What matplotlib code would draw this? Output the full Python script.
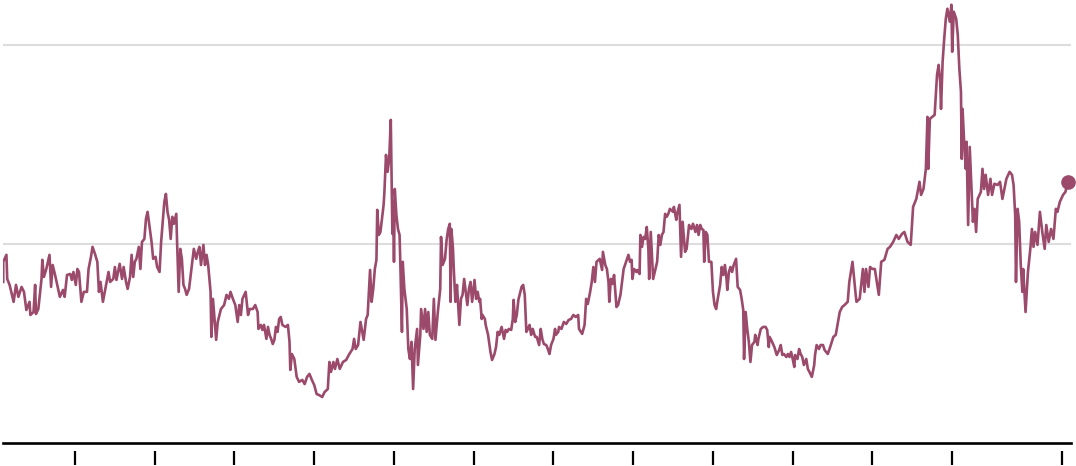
import matplotlib
matplotlib.use("Agg")
import matplotlib.pyplot as plt

# weekly index (decimal years, index value)
years = [
    2010.10, 2010.10, 2010.14, 2010.15, 2010.18, 2010.23, 2010.26, 2010.29, 2010.33, 2010.36,
    2010.39, 2010.43, 2010.44, 2010.48, 2010.50, 2010.51, 2010.54, 2010.58, 2010.59, 2010.61,
    2010.64, 2010.68, 2010.70, 2010.72, 2010.75, 2010.81, 2010.85, 2010.87, 2010.90, 2010.94,
    2010.96, 2010.98, 2011.01, 2011.03, 2011.05, 2011.08, 2011.11, 2011.15, 2011.17, 2011.20,
    2011.22, 2011.25, 2011.28, 2011.30, 2011.32, 2011.35, 2011.39, 2011.42, 2011.44, 2011.48,
    2011.50, 2011.52, 2011.56,
    2011.59, 2011.61, 2011.64, 2011.66, 2011.69, 2011.71, 2011.73, 2011.75, 2011.77, 2011.80,
    2011.82, 2011.84, 2011.87, 2011.89, 2011.91, 2011.94, 2011.96, 2011.98, 2012.01, 2012.03,
    2012.06, 2012.08, 2012.10, 2012.12, 2012.14, 2012.16, 2012.18, 2012.20, 2012.22, 2012.24,
    2012.27, 2012.28, 2012.30, 2012.32, 2012.34, 2012.36, 2012.38, 2012.40, 2012.43, 2012.46,
    2012.49, 2012.52, 2012.54, 2012.56, 2012.58, 2012.61, 2012.63, 2012.65, 2012.67, 2012.70,
    2012.71, 2012.73, 2012.77, 2012.79, 2012.83, 2012.87, 2012.90, 2012.93, 2012.95, 2012.98,
    2013.01, 2013.04,
    2013.06, 2013.08, 2013.10, 2013.14, 2013.17, 2013.19, 2013.23, 2013.26, 2013.29, 2013.30,
    2013.33, 2013.35, 2013.37, 2013.40, 2013.42, 2013.44, 2013.46, 2013.48, 2013.50, 2013.52,
    2013.54, 2013.56, 2013.58, 2013.60, 2013.64, 2013.67, 2013.69, 2013.70, 2013.72, 2013.75,
    2013.78, 2013.81, 2013.85, 2013.88, 2013.91, 2013.94, 2013.97, 2014.00, 2014.03, 2014.06,
    2014.10, 2014.13, 2014.17, 2014.19, 2014.21, 2014.24, 2014.26, 2014.29, 2014.32, 2014.36,
    2014.40, 2014.44, 2014.48, 2014.50, 2014.52,
    2014.55, 2014.58, 2014.62, 2014.65, 2014.67, 2014.70, 2014.72, 2014.74, 2014.76, 2014.78,
    2014.79, 2014.81, 2014.83, 2014.87, 2014.88, 2014.90, 2014.92, 2014.94, 2014.96, 2014.98,
    2014.99, 2015.00, 2015.01, 2015.03, 2015.05, 2015.07, 2015.08, 2015.10, 2015.11, 2015.13,
    2015.16, 2015.18, 2015.20, 2015.22, 2015.24, 2015.26, 2015.29, 2015.30, 2015.33, 2015.34,
    2015.37, 2015.39, 2015.41, 2015.43, 2015.45, 2015.48, 2015.50, 2015.52, 2015.55, 2015.58,
    2015.59, 2015.61, 2015.64, 2015.66, 2015.68, 2015.70, 2015.71, 2015.72, 2015.74, 2015.75,
    2015.77, 2015.79, 2015.82, 2015.84, 2015.86, 2015.88, 2015.90, 2015.92, 2015.94, 2015.96,
    2015.98,
    2016.01, 2016.03, 2016.05, 2016.07, 2016.08, 2016.10, 2016.11, 2016.14, 2016.15, 2016.18,
    2016.21, 2016.23, 2016.26, 2016.28, 2016.30, 2016.32, 2016.35, 2016.38, 2016.40, 2016.42,
    2016.44, 2016.47, 2016.49, 2016.50, 2016.52, 2016.54, 2016.56, 2016.60, 2016.62, 2016.64,
    2016.66, 2016.68, 2016.70, 2016.72, 2016.74, 2016.77, 2016.79, 2016.82, 2016.84, 2016.86,
    2016.88, 2016.91, 2016.93, 2016.95, 2016.97, 2017.00, 2017.02, 2017.03, 2017.06, 2017.07,
    2017.10, 2017.13, 2017.16, 2017.19, 2017.22, 2017.25, 2017.28, 2017.31, 2017.32, 2017.36,
    2017.39, 2017.41, 2017.43, 2017.46,
    2017.48, 2017.50, 2017.52, 2017.54, 2017.58, 2017.61, 2017.62, 2017.65, 2017.67, 2017.69,
    2017.70, 2017.72, 2017.74, 2017.76, 2017.79, 2017.81, 2017.84, 2017.86, 2017.88, 2017.91,
    2017.94, 2017.96, 2017.98, 2017.99, 2018.01, 2018.04, 2018.05, 2018.08, 2018.09, 2018.11,
    2018.13, 2018.15, 2018.17, 2018.19, 2018.20, 2018.22, 2018.25, 2018.27, 2018.30, 2018.32,
    2018.34, 2018.36, 2018.38, 2018.40, 2018.42, 2018.44, 2018.46, 2018.50, 2018.51, 2018.54,
    2018.55, 2018.58, 2018.60, 2018.62, 2018.65, 2018.67, 2018.70, 2018.73, 2018.75, 2018.78,
    2018.80, 2018.82, 2018.84, 2018.86, 2018.88, 2018.89, 2018.91, 2018.93, 2018.95,
    2018.98, 2019.00, 2019.02, 2019.04, 2019.06, 2019.09, 2019.11, 2019.13, 2019.15, 2019.17,
    2019.18, 2019.20, 2019.22, 2019.24, 2019.26, 2019.29, 2019.31, 2019.34, 2019.36, 2019.38,
    2019.39, 2019.41, 2019.43, 2019.45, 2019.47, 2019.49, 2019.52, 2019.53, 2019.56, 2019.57,
    2019.60, 2019.63, 2019.66, 2019.68, 2019.70, 2019.71, 2019.73, 2019.77, 2019.80, 2019.83,
    2019.85, 2019.87, 2019.89, 2019.92, 2019.94, 2019.96, 2019.98, 2020.00, 2020.02, 2020.03,
    2020.06, 2020.08, 2020.10, 2020.12, 2020.14, 2020.17, 2020.19, 2020.21, 2020.24, 2020.27,
    2020.28, 2020.30, 2020.33, 2020.35, 2020.38, 2020.40, 2020.44,
    2020.47, 2020.51, 2020.54, 2020.59, 2020.62, 2020.65, 2020.69, 2020.71, 2020.73, 2020.75,
    2020.79, 2020.80, 2020.84, 2020.88, 2020.90, 2020.92, 2020.95, 2020.97, 2021.00, 2021.03,
    2021.08, 2021.11, 2021.15, 2021.19, 2021.22, 2021.26, 2021.30, 2021.33, 2021.37, 2021.40,
    2021.44, 2021.48, 2021.51, 2021.55, 2021.59, 2021.61, 2021.64, 2021.67, 2021.69, 2021.70,
    2021.72, 2021.78, 2021.81, 2021.83, 2021.85, 2021.86, 2021.88, 2021.90, 2021.92, 2021.94,
    2021.97, 2021.99, 2022.00, 2022.02, 2022.05, 2022.07, 2022.09, 2022.11, 2022.12, 2022.13,
    2022.15, 2022.17, 2022.18, 2022.20, 2022.22, 2022.24, 2022.26, 2022.28, 2022.30, 2022.32,
    2022.36, 2022.38, 2022.40, 2022.42, 2022.45, 2022.48, 2022.50, 2022.53, 2022.57, 2022.60,
    2022.63, 2022.68, 2022.72, 2022.75, 2022.77, 2022.79, 2022.80, 2022.82, 2022.84, 2022.86,
    2022.88, 2022.89, 2022.92, 2022.95, 2022.98, 2023.00, 2023.02, 2023.04, 2023.07, 2023.10,
    2023.13, 2023.16, 2023.18, 2023.21, 2023.24, 2023.27, 2023.30, 2023.32, 2023.35, 2023.39,
    2023.42, 2023.45,
]
values = [
    80.9, 91.0, 94.5, 82.4, 79.4, 70.9, 79.4, 73.4, 78.4, 75.9,
    66.8, 70.9, 64.3, 65.8, 79.4, 64.8, 67.3, 82.4, 92.0, 83.4,
    87.4, 94.5, 78.4, 89.4, 84.4, 73.4, 76.9, 73.4, 84.4, 84.9,
    81.9, 85.9, 79.4, 87.4, 85.9, 70.9, 75.9, 75.9, 87.4, 93.5,
    98.5, 95.0, 91.0, 75.9, 80.9, 70.9, 79.4, 85.9, 80.9, 82.4,
    88.4, 81.9, 90.0,
    82.4, 88.4, 80.9, 77.4, 83.4, 94.5, 83.4, 91.0, 92.5, 98.5,
    87.4, 101.0, 102.5, 112.6, 116.1, 107.0, 101.0, 92.5, 93.5, 88.4,
    85.9, 101.0, 111.1, 121.1, 125.1, 116.1, 112.1, 102.5, 113.6, 110.1,
    115.1, 101.0, 75.9, 97.5, 92.5, 79.4, 77.4, 74.4, 77.4, 87.4,
    97.5, 92.5, 96.0, 98.5, 89.4, 99.5, 89.4, 94.5, 89.4, 75.9,
    53.3, 72.4, 51.8, 60.8, 67.3, 69.3, 74.4, 72.4, 75.9, 72.4,
    69.3, 60.8,
    69.3, 64.3, 72.4, 75.9, 64.3, 67.3, 67.3, 69.3, 65.8, 57.3,
    59.3, 56.8, 59.3, 52.3, 58.3, 54.3, 52.3, 49.7, 51.8, 58.3,
    55.8, 62.3, 63.3, 59.3, 58.3, 59.3, 50.8, 36.7, 44.7, 42.2,
    33.2, 30.7, 31.7, 29.6, 33.2, 34.7, 31.7, 29.1, 24.6, 24.1,
    23.1, 25.6, 27.1, 40.7, 35.7, 40.7, 37.2, 42.2, 37.2, 40.7,
    41.7, 44.7, 47.2, 52.3, 47.2,
    49.2, 60.8, 51.8, 62.3, 64.3, 86.9, 70.9, 77.4, 87.4, 92.0,
    117.1, 104.5, 106.0, 119.6, 126.1, 144.7, 136.2, 142.7, 162.3, 105.0,
    121.1, 91.0, 127.6, 114.6, 107.5, 104.5, 89.4, 55.8, 91.0, 77.4,
    67.3, 47.2, 42.2, 50.8, 27.1, 47.2, 57.3, 39.2, 54.3, 67.3,
    57.3, 67.3, 55.8, 65.8, 54.3, 52.3, 72.4, 51.8, 65.8, 77.4,
    103.5, 89.4, 92.5, 102.0, 107.5, 110.1, 70.9, 107.5, 97.5, 87.4,
    70.9, 79.4, 59.3, 72.4, 74.4, 82.4, 75.9, 69.3, 77.4, 80.9,
    70.9,
    81.9, 72.4, 75.9, 70.9, 72.4, 62.3, 64.3, 62.3, 59.3, 54.3,
    45.7, 41.7, 44.7, 48.2, 55.8, 54.3, 58.3, 52.3, 56.8, 55.8,
    57.3, 56.8, 62.3, 71.9, 60.8, 64.3, 71.9, 78.4, 79.4, 74.4,
    55.8, 57.3, 59.3, 54.3, 57.3, 53.3, 53.3, 49.2, 57.3, 52.3,
    49.7, 49.2, 47.2, 44.7, 49.2, 52.3, 57.3, 54.3, 55.8, 58.3,
    57.3, 60.8, 59.8, 61.8, 62.3, 64.3, 63.3, 64.3, 57.3, 54.8,
    59.3, 72.4, 69.8, 75.9,
    80.9, 88.4, 80.9, 91.0, 92.5, 86.9, 96.0, 89.4, 87.4, 80.9,
    70.9, 82.4, 79.9, 84.4, 68.3, 69.3, 74.4, 80.9, 87.4, 91.0,
    94.5, 91.0, 92.0, 82.4, 87.4, 85.9, 86.9, 84.9, 104.5, 98.5,
    103.5, 102.5, 108.5, 97.5, 82.4, 106.0, 82.4, 85.9, 91.0, 104.5,
    99.5, 104.5, 106.0, 115.1, 113.6, 115.1, 117.6, 116.1, 118.6, 112.1,
    115.1, 119.6, 93.5, 111.1, 96.0, 97.5, 109.5, 107.5, 110.1, 106.0,
    109.5, 104.5, 109.5, 107.5, 107.0, 91.0, 106.0, 104.5, 91.0,
    91.0, 75.9, 69.3, 67.3, 72.4, 79.4, 88.4, 84.4, 89.4, 82.4,
    76.9, 85.9, 88.4, 85.9, 89.4, 92.5, 78.4, 76.9, 72.4, 66.8,
    42.2, 65.8, 57.3, 50.8, 40.7, 49.2, 50.8, 54.3, 49.2, 52.3,
    57.3, 58.3, 58.3, 56.8, 48.2, 53.3, 51.8, 48.2, 44.2, 46.7,
    49.2, 44.2, 44.7, 43.2, 44.7, 43.2, 45.7, 42.2, 38.2, 44.2,
    42.2, 47.2, 44.7, 43.2, 39.2, 42.2, 37.2, 35.7, 33.2, 39.2,
    44.2, 49.2, 47.2, 49.2, 49.2, 46.7, 44.7,
    48.2, 53.3, 54.3, 65.8, 68.3, 69.3, 70.9, 80.9, 85.9, 91.0,
    74.4, 70.9, 72.4, 87.4, 75.9, 87.4, 78.4, 88.4, 87.4, 87.4,
    74.4, 91.0, 92.0, 97.5, 98.5, 101.0, 104.5, 102.5, 105.0, 106.0,
    101.0, 99.5, 118.6, 122.6, 131.2, 124.6, 127.6, 137.7, 163.8, 137.7,
    162.8, 164.8, 184.9, 189.9, 181.4, 167.8, 191.5, 203.0, 213.1, 218.1,
    211.6, 220.1, 196.5, 216.6, 213.1, 205.0, 187.9, 176.4, 142.7, 167.8,
    151.3, 137.7, 151.3, 109.5, 148.7, 129.6, 111.1, 117.6, 106.0, 122.6,
    126.1, 137.7, 127.6, 134.7, 124.6, 132.7, 124.6, 130.2, 129.6, 131.2,
    122.6, 132.7, 136.2, 134.7, 129.6, 114.6, 80.9, 117.6, 111.1, 89.4,
    75.9, 87.4, 65.8, 85.9, 97.5, 107.5, 98.5, 106.0, 99.5, 116.1,
    106.0, 97.5, 109.5, 101.0, 107.5, 102.5, 117.6, 116.1, 121.1, 124.6,
    126.1, 131.2,
]
tick_years = [2011, 2012, 2013, 2014, 2015, 2016, 2017, 2018, 2019, 2020, 2021, 2022, 2023.38]
grid_values = [100, 200]

line_color = "#9b4a6b"

fig = plt.figure(figsize=(10.76, 4.66), dpi=100)
ax = fig.add_axes([3 / 1076, 23 / 466, 1068 / 1076, 443 / 466])

for g in grid_values:
    ax.axhline(g, color="#dddddd", lw=1.5, zorder=1)

ax.plot(years, values, color=line_color, lw=1.9, solid_joinstyle="round", zorder=3)
ax.plot(years[-1], values[-1], "o", color=line_color, ms=9.5, clip_on=False, zorder=4)

ax.set_xlim(2010.097, 2023.49)
ax.set_ylim(0, 222.5)

for s in ["top", "right", "left"]:
    ax.spines[s].set_visible(False)
ax.spines["bottom"].set_linewidth(1.9)
ax.spines["bottom"].set_color("black")
ax.set_xticks([])
ax.set_yticks([])

# detached tick marks below the baseline
ax.vlines(tick_years, -0.018, -0.05, transform=ax.get_xaxis_transform(),
          color="black", lw=1.6, clip_on=False)

fig.savefig("out.png", dpi=100)
